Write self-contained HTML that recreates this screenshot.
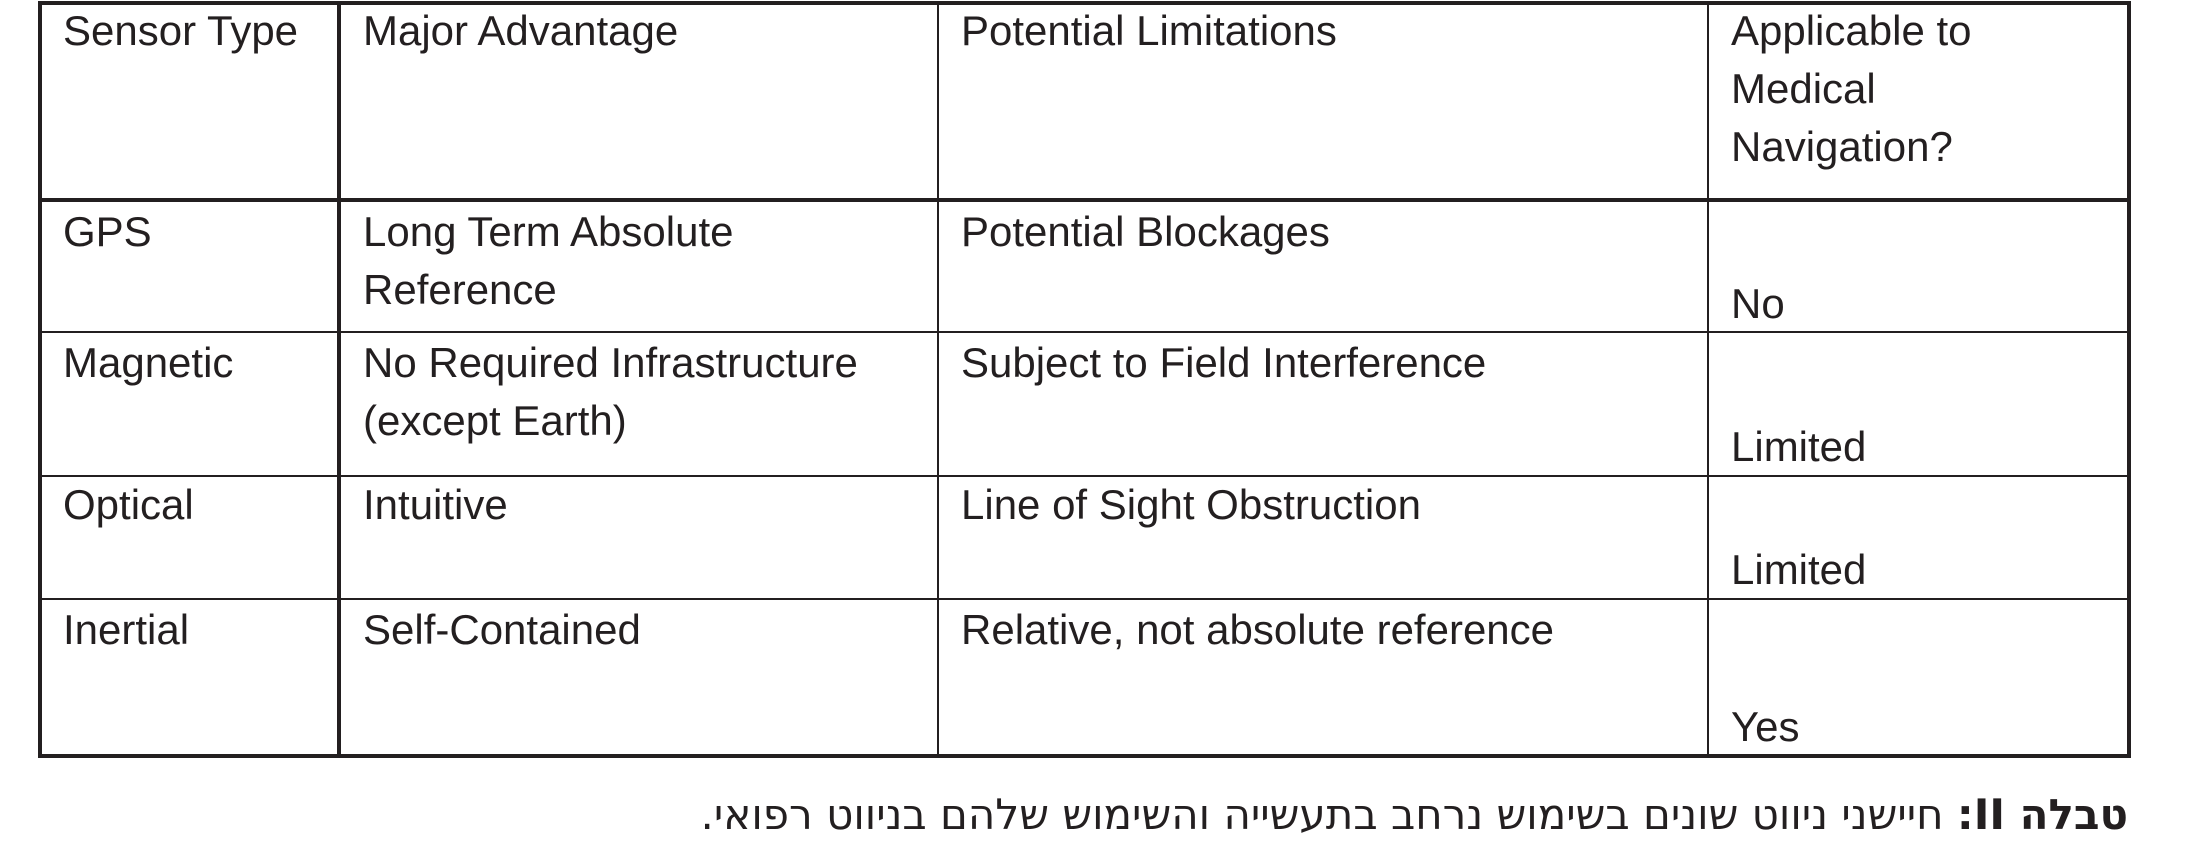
<!DOCTYPE html>
<html><head><meta charset="utf-8"><style>
body{margin:0;width:2195px;height:849px;background:#fff;position:relative;overflow:hidden;font-family:"Liberation Sans","DejaVu Sans",sans-serif;color:#231f20}
.h{position:absolute;background:#231f20}
.t{position:absolute;font-size:42px;line-height:58px;white-space:nowrap}
.cap{position:absolute;right:67px;top:790px;font-size:42px;line-height:50px;direction:rtl;white-space:nowrap;font-family:"DejaVu Sans","Liberation Sans",sans-serif}
</style></head><body>
<div class="h" style="left:38px;top:1px;width:2093px;height:4px"></div>
<div class="h" style="left:38px;top:198px;width:2093px;height:4px"></div>
<div class="h" style="left:38px;top:331px;width:2093px;height:2px"></div>
<div class="h" style="left:38px;top:475px;width:2093px;height:2px"></div>
<div class="h" style="left:38px;top:598px;width:2093px;height:2px"></div>
<div class="h" style="left:38px;top:754px;width:2093px;height:4px"></div>
<div class="h" style="left:38px;top:1px;width:4px;height:757px"></div>
<div class="h" style="left:337px;top:1px;width:4px;height:757px"></div>
<div class="h" style="left:937px;top:1px;width:2px;height:757px"></div>
<div class="h" style="left:1707px;top:1px;width:2px;height:757px"></div>
<div class="h" style="left:2127px;top:1px;width:4px;height:757px"></div>

<div class="t" style="left:63px;top:2px">Sensor Type</div>
<div class="t" style="left:363px;top:2px">Major Advantage</div>
<div class="t" style="left:961px;top:2px">Potential Limitations</div>
<div class="t" style="left:1731px;top:2px">Applicable to<br>Medical<br>Navigation?</div>

<div class="t" style="left:63px;top:203px">GPS</div>
<div class="t" style="left:363px;top:203px">Long Term Absolute<br>Reference</div>
<div class="t" style="left:961px;top:203px">Potential Blockages</div>
<div class="t" style="left:1731px;top:275px">No</div>

<div class="t" style="left:63px;top:334px">Magnetic</div>
<div class="t" style="left:363px;top:334px">No Required Infrastructure<br>(except Earth)</div>
<div class="t" style="left:961px;top:334px">Subject to Field Interference</div>
<div class="t" style="left:1731px;top:418px">Limited</div>

<div class="t" style="left:63px;top:476px">Optical</div>
<div class="t" style="left:363px;top:476px">Intuitive</div>
<div class="t" style="left:961px;top:476px">Line of Sight Obstruction</div>
<div class="t" style="left:1731px;top:541px">Limited</div>

<div class="t" style="left:63px;top:601px">Inertial</div>
<div class="t" style="left:363px;top:601px">Self-Contained</div>
<div class="t" style="left:961px;top:601px">Relative, not absolute reference</div>
<div class="t" style="left:1731px;top:698px">Yes</div>

<div class="cap"><b>טבלה II:</b> חיישני ניווט שונים בשימוש נרחב בתעשייה והשימוש שלהם בניווט רפואי.</div>
</body></html>
